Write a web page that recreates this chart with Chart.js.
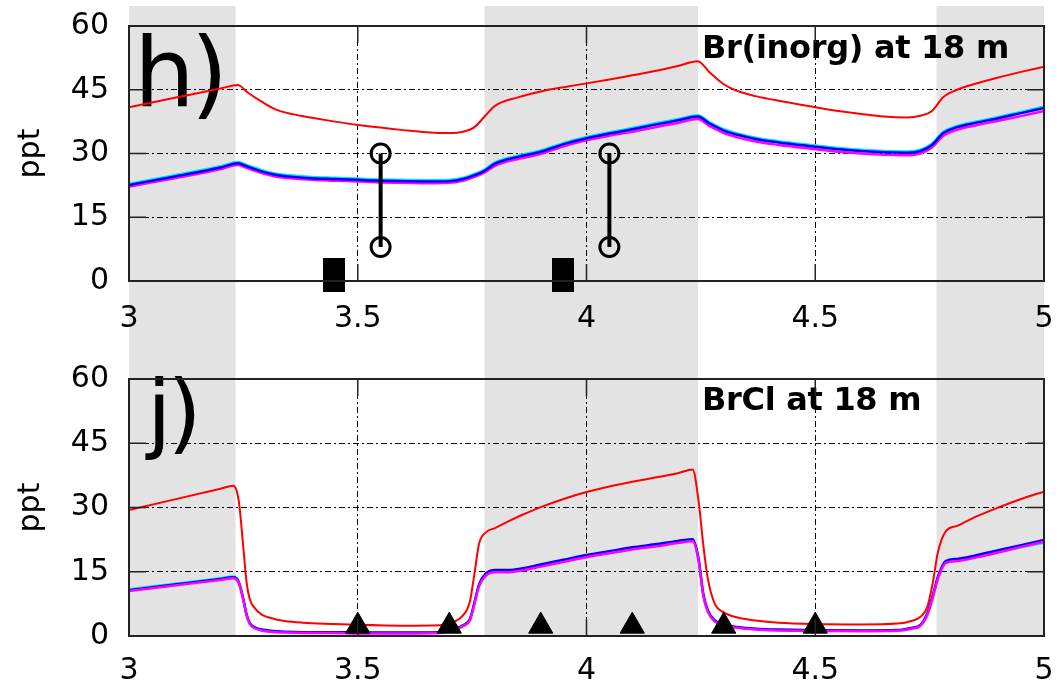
<!DOCTYPE html>
<html>
<head>
<meta charset="utf-8">
<script src="https://cdn.jsdelivr.net/npm/chart.js@4.4.1/dist/chart.umd.min.js"></script>
<style>
  body { margin: 0; background: #fff; }
  #wrap { position: relative; width: 1059px; height: 684px; }
  canvas { position: absolute; left: 0; }
  #chartH { top: 0; }
  #chartJ { top: 340px; }
</style>
</head>
<body>
<div id="wrap">
  <canvas id="chartH" width="1059" height="340"></canvas>
  <canvas id="chartJ" width="1059" height="344"></canvas>
</div>
<script>
Chart.defaults.font.family = 'DejaVu Sans';
Chart.defaults.color = '#000';

// night periods (grey bands), in days
const nightBands = [[3.0, 3.233], [3.777, 4.244], [4.765, 5.0]];

// h) Br(inorg) at 18 m
const hDays = [
  3.0, 3.1, 3.2, 3.238, 3.26,
  3.29, 3.32, 3.36, 3.4, 3.45,
  3.5, 3.55, 3.6, 3.65, 3.7,
  3.73, 3.755, 3.775, 3.8, 3.85,
  3.9, 3.95, 4.0, 4.05, 4.1,
  4.15, 4.2, 4.243, 4.27, 4.3,
  4.33, 4.37, 4.42, 4.5, 4.55,
  4.6, 4.65, 4.7, 4.73, 4.755,
  4.78, 4.81, 4.85, 4.9, 4.95,
  5.0
];
const hRed = [
  40.9, 43.1, 45.3, 46.1, 44.3,
  42.2, 40.4, 39.2, 38.4, 37.5,
  36.7, 36.1, 35.5, 35.0, 34.8,
  35.1, 36.2, 38.4, 41.2, 43.2,
  44.6, 45.6, 46.5, 47.4, 48.4,
  49.4, 50.6, 51.7, 49.0, 46.3,
  44.7, 43.5, 42.4, 40.9, 40.0,
  39.3, 38.7, 38.5, 38.9, 40.0,
  43.3, 45.0, 46.4, 47.9, 49.2,
  50.4
];
const hBlue = [
  22.6, 24.6, 26.7, 27.7, 26.9,
  25.8, 25.0, 24.5, 24.2, 24.0,
  23.8, 23.6, 23.5, 23.4, 23.5,
  24.0, 24.9, 25.8, 27.6, 29.2,
  30.4, 32.2, 33.6, 34.7, 35.7,
  36.8, 37.8, 38.7, 37.0, 35.4,
  34.4, 33.4, 32.6, 31.6, 31.0,
  30.6, 30.3, 30.2, 30.6, 32.0,
  34.8, 36.2, 37.2, 38.3, 39.5,
  40.7
];
const hCyan = [
  22.9, 24.9, 27.0, 28.0, 27.2,
  26.1, 25.3, 24.8, 24.5, 24.3,
  24.1, 23.9, 23.8, 23.7, 23.8,
  24.3, 25.2, 26.1, 27.9, 29.5,
  30.7, 32.5, 33.9, 35.0, 36.0,
  37.1, 38.1, 39.0, 37.3, 35.7,
  34.7, 33.7, 32.9, 31.9, 31.3,
  30.9, 30.6, 30.5, 30.9, 32.3,
  35.1, 36.5, 37.5, 38.6, 39.8,
  41.0
];
const hMagenta = [
  22.2, 24.2, 26.3, 27.3, 26.5,
  25.4, 24.6, 24.1, 23.8, 23.6,
  23.4, 23.2, 23.1, 23.0, 23.1,
  23.6, 24.5, 25.4, 27.1, 28.7,
  29.9, 31.7, 33.1, 34.2, 35.1,
  36.2, 37.2, 38.1, 36.4, 34.8,
  33.8, 32.8, 32.0, 31.0, 30.4,
  30.0, 29.7, 29.6, 30.0, 31.4,
  34.2, 35.6, 36.6, 37.7, 38.8,
  40.0
];
// measurements: detection-limit bars and low/high ranges
const hBarDays = [3.448, 3.949];
const hBarVals = [1.4, 1.4];
const hRangeDays = [3.55, 4.05];
const hRangeLow = [8, 8];
const hRangeHigh = [30, 30];

// j) BrCl at 18 m
const jDays = [
  3.0, 3.1, 3.2, 3.228, 3.24,
  3.25, 3.257, 3.264, 3.275, 3.29,
  3.31, 3.34, 3.38, 3.45, 3.5,
  3.6, 3.68, 3.71, 3.73, 3.745,
  3.755, 3.765, 3.78, 3.8, 3.83,
  3.86, 3.9, 3.95, 4.0, 4.05,
  4.1, 4.15, 4.2, 4.232, 4.245,
  4.255, 4.265, 4.28, 4.3, 4.33,
  4.37, 4.42, 4.5, 4.6, 4.68,
  4.71, 4.73, 4.745, 4.757, 4.768,
  4.785, 4.81, 4.85, 4.9, 4.95,
  5.0
];
const jRed = [
  29.4, 31.9, 34.4, 35.1, 31.5,
  20.5, 12.5, 8.6, 6.5, 5.0,
  4.2, 3.5, 3.1, 2.8, 2.6,
  2.4, 2.5, 3.3, 4.8, 8.0,
  14.5, 21.5, 24.2, 25.2, 26.8,
  28.3, 30.1, 32.0, 33.6, 34.9,
  36.0, 37.0, 38.0, 38.9, 31.5,
  21.5, 13.5, 7.6, 5.5, 4.3,
  3.6, 3.1, 2.8, 2.7, 2.9,
  3.5, 4.5, 6.8, 12.5, 19.5,
  24.4, 25.7, 27.8, 30.0, 32.0,
  33.7
];
const jBlue = [
  10.7, 12.0, 13.3, 13.7, 12.5,
  8.5, 5.0, 3.0, 2.0, 1.5,
  1.2, 1.0, 0.9, 0.9, 0.8,
  0.8, 0.9, 1.5, 2.5, 3.9,
  7.8, 12.0, 14.6, 15.4, 15.4,
  15.8, 16.7, 17.8, 18.9, 19.8,
  20.7, 21.4, 22.2, 22.6, 18.0,
  10.0, 6.0, 3.7, 2.7, 2.1,
  1.7, 1.5, 1.4, 1.3, 1.4,
  1.9, 2.6, 5.3, 9.5, 13.8,
  17.5, 18.0, 18.8, 20.0, 21.2,
  22.4
];
const jCyan = [
  10.9, 12.2, 13.5, 13.9, 12.7,
  8.6, 5.0, 2.9, 1.9, 1.4,
  1.1, 0.9, 0.8, 0.8, 0.7,
  0.7, 0.8, 1.4, 2.4, 3.8,
  7.6, 11.8, 14.3, 15.1, 15.1,
  15.5, 16.4, 17.5, 18.6, 19.5,
  20.4, 21.1, 21.9, 22.3, 17.8,
  9.8, 5.9, 3.6, 2.6, 2.0,
  1.6, 1.4, 1.3, 1.2, 1.3,
  1.8, 2.5, 5.1, 9.2, 13.5,
  17.2, 17.6, 18.4, 19.6, 20.7,
  21.8
];
const jMagenta = [
  10.5, 11.8, 13.1, 13.5, 12.3,
  8.3, 4.8, 2.8, 1.8, 1.3,
  1.0, 0.8, 0.7, 0.7, 0.6,
  0.6, 0.7, 1.3, 2.3, 3.6,
  7.4, 11.6, 14.1, 14.9, 14.9,
  15.3, 16.2, 17.3, 18.4, 19.3,
  20.2, 20.9, 21.7, 22.1, 17.6,
  9.6, 5.7, 3.4, 2.5, 1.9,
  1.5, 1.3, 1.2, 1.1, 1.2,
  1.7, 2.4, 4.9, 9.0, 13.3,
  17.0, 17.5, 18.3, 19.5, 20.8,
  22.0
];
const jTriDays = [3.5, 3.7, 3.9, 4.1, 4.3, 4.5];
const jTriVals = [2.3, 2.3, 2.3, 2.3, 2.3, 2.3];

const pts = (xs, ys) => xs.map((d, i) => ({ x: d, y: ys[i] }));

// filled black bar used as a marker
const barMark = document.createElement('canvas');
barMark.width = 22;
barMark.height = 34;
const bctx = barMark.getContext('2d');
bctx.fillStyle = '#000';
bctx.fillRect(0, 0, 22, 34);

function curve(data, color, width) {
  return {
    data, borderColor: color, borderWidth: width,
    pointRadius: 0, cubicInterpolationMode: 'monotone', fill: false
  };
}

// grey night bands, panel letter and title, then frame with inward ticks
const panelDecor = {
  id: 'panelDecor',
  beforeDraw(chart, args, o) {
    const { ctx, chartArea: a, scales: { x } } = chart;
    ctx.save();
    ctx.fillStyle = '#e3e3e3';
    const y0 = o.shadeTop;
    const y1 = o.shadeToArea ? a.bottom : chart.height;
    nightBands.forEach(([s, e]) => {
      const x0 = x.getPixelForValue(s), x1 = x.getPixelForValue(e);
      ctx.fillRect(x0, y0, x1 - x0, y1 - y0);
    });
    ctx.fillStyle = '#000';
    ctx.textBaseline = 'alphabetic';
    ctx.textAlign = 'left';
    ctx.font = o.letterSize + 'px "DejaVu Sans"';
    ctx.letterSpacing = '-4px';
    ctx.fillText(o.letter, o.letterX, o.letterY);
    ctx.font = 'bold 32px "DejaVu Sans"';
    ctx.letterSpacing = '-0.3px';
    ctx.fillText(o.title, 702, o.titleY);
    ctx.restore();
  },
  afterDraw(chart) {
    const { ctx, chartArea: a, scales: { x, y } } = chart;
    const len = 17;
    ctx.save();
    ctx.strokeStyle = '#222';
    ctx.lineWidth = 1.5;
    ctx.beginPath();
    x.ticks.forEach(t => {
      const px = x.getPixelForValue(t.value);
      ctx.moveTo(px, a.bottom); ctx.lineTo(px, a.bottom - len);
      ctx.moveTo(px, a.top); ctx.lineTo(px, a.top + len);
    });
    y.ticks.forEach(t => {
      const py = y.getPixelForValue(t.value);
      ctx.moveTo(a.left, py); ctx.lineTo(a.left + len, py);
      ctx.moveTo(a.right, py); ctx.lineTo(a.right - len, py);
    });
    ctx.stroke();
    ctx.lineWidth = 2;
    ctx.strokeRect(a.left, a.top, a.width, a.height);
    ctx.restore();
  }
};

// the outer padding alone fixes the plot area, so drop the label overflow padding
function noOverflow(s) {
  s.paddingLeft = 0;
  s.paddingRight = 0;
  s.paddingTop = 0;
  s.paddingBottom = 0;
}

function panelOptions(p) {
  const gridDash = [6, 3, 2, 3];
  return {
    responsive: false,
    animation: false,
    events: [],
    layout: { padding: { top: p.top, right: 15, left: 0, bottom: 0 } },
    plugins: {
      legend: { display: false },
      tooltip: { enabled: false },
      panelDecor: p
    },
    scales: {
      x: {
        type: 'linear', min: 3, max: 5,
        ticks: { stepSize: 0.5, font: { size: 30 }, padding: p.xPad, maxRotation: 0,
                 callback: v => String(v) },
        grid: { color: '#000', lineWidth: 1, drawTicks: false },
        border: { display: false, dash: gridDash },
        afterFit: s => { s.height = p.xHeight; noOverflow(s); }
      },
      y: {
        min: 0, max: 60,
        ticks: { stepSize: 15, font: { size: 30 }, padding: 20 },
        grid: { color: '#000', lineWidth: 1, drawTicks: false },
        border: { display: false, dash: gridDash },
        title: { display: true, text: 'ppt', font: { size: 30 }, padding: { top: 13, bottom: 0 } },
        afterFit: s => { s.width = 129; noOverflow(s); }
      }
    }
  };
}

new Chart(document.getElementById('chartH'), {
  type: 'line',
  data: {
    datasets: [
      { data: pts(hBarDays, hBarVals), showLine: false, pointStyle: barMark, pointRadius: 12, clip: false },
      { data: [{ x: hRangeDays[0], y: hRangeLow[0] }, { x: hRangeDays[0], y: hRangeHigh[0] }],
        borderColor: '#000', borderWidth: 4, pointRadius: 9.5, pointBorderWidth: 3,
        pointBackgroundColor: 'rgba(0,0,0,0)', pointBorderColor: '#000', clip: false },
      { data: [{ x: hRangeDays[1], y: hRangeLow[1] }, { x: hRangeDays[1], y: hRangeHigh[1] }],
        borderColor: '#000', borderWidth: 4, pointRadius: 9.5, pointBorderWidth: 3,
        pointBackgroundColor: 'rgba(0,0,0,0)', pointBorderColor: '#000', clip: false },
      curve(pts(hDays, hRed), '#ff0000', 2),
      curve(pts(hDays, hBlue), '#0000ff', 2.5),
      curve(pts(hDays, hMagenta), '#ff00ff', 2.5),
      curve(pts(hDays, hCyan), '#00e5e5', 2.5)
    ]
  },
  options: panelOptions({
    top: 26, xPad: 20, xHeight: 59,
    shadeTop: 6, shadeToArea: false,
    letter: 'h)', letterSize: 96, letterX: 134, letterY: 106,
    title: 'Br(inorg) at 18 m', titleY: 58
  }),
  plugins: [panelDecor]
});

new Chart(document.getElementById('chartJ'), {
  type: 'line',
  data: {
    datasets: [
      { data: pts(jTriDays, jTriVals), showLine: false, pointStyle: 'triangle', pointRadius: 14,
        pointBackgroundColor: '#000', pointBorderColor: '#000', pointBorderWidth: 1, clip: false },
      curve(pts(jDays, jRed), '#ff0000', 2),
      curve(pts(jDays, jMagenta), '#ff00ff', 2.5),
      curve(pts(jDays, jBlue), '#0000ff', 2.5),
      curve(pts(jDays, jCyan), '#00e5e5', 2.5)
    ]
  },
  options: panelOptions({
    top: 39, xPad: 17, xHeight: 48,
    shadeTop: 0, shadeToArea: true,
    letter: 'j)', letterSize: 88, letterX: 147, letterY: 102,
    title: 'BrCl at 18 m', titleY: 70
  }),
  plugins: [panelDecor]
});
</script>
</body>
</html>
